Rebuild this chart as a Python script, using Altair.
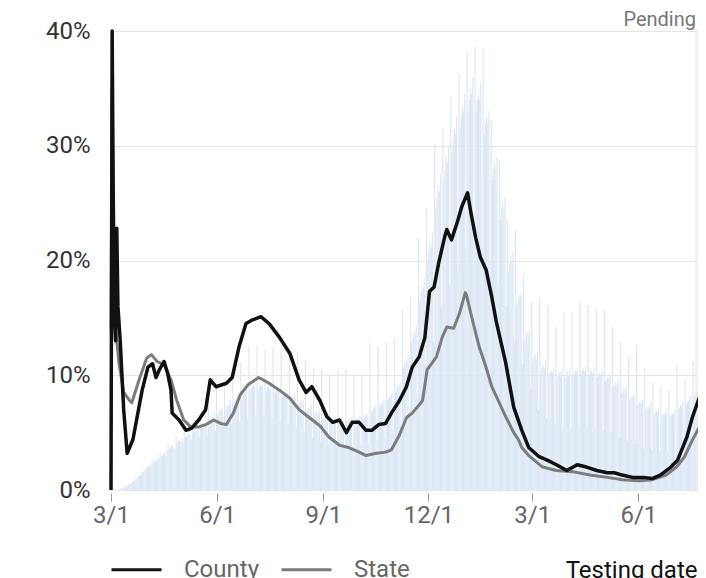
import altair as alt
import pandas as pd

# Daily positivity bars (%), one row per week starting Sunday 2020-03-01
bar_weeks = [
    [0, 0, 0, 0, 0, 0, 0],
    [0.1, 0.1, 0.2, 0.2, 0.2, 0.3, 0.3],
    [0.4, 0.5, 0.5, 0.6, 0.7, 0.8, 0.8],
    [1.0, 1.1, 1.2, 1.3, 1.2, 1.5, 1.6],
    [1.7, 1.8, 1.8, 2.0, 2.1, 2.2, 2.0],
    [2.4, 2.3, 2.5, 2.6, 2.5, 2.8, 2.7],
    [3.2, 2.9, 3.0, 3.1, 3.3, 3.0, 3.4],
    [4.0, 3.6, 3.7, 3.8, 3.9, 3.7, 3.5],
    [4.8, 4.2, 4.3, 4.4, 4.2, 4.5, 4.0],
    [5.5, 4.6, 4.7, 4.8, 5.0, 4.8, 4.4],
    [6.0, 5.0, 5.1, 5.3, 5.2, 5.4, 4.6],
    [6.6, 5.4, 5.6, 5.5, 5.8, 5.7, 4.8],
    [8.0, 6.0, 6.2, 6.5, 6.3, 6.8, 5.2],
    [9.0, 6.6, 6.8, 7.0, 7.2, 7.0, 5.5],
    [9.2, 7.0, 7.2, 7.5, 7.3, 7.8, 5.8],
    [10.2, 7.6, 7.8, 8.0, 8.2, 8.0, 6.0],
    [11.2, 8.0, 8.3, 8.5, 8.4, 8.8, 6.2],
    [12.5, 8.6, 8.8, 9.0, 9.2, 9.0, 6.5],
    [12.6, 8.8, 9.0, 9.3, 9.1, 9.4, 6.6],
    [12.2, 8.6, 8.9, 9.0, 8.8, 9.2, 6.3],
    [12.5, 8.4, 8.6, 8.8, 8.9, 8.7, 6.0],
    [12.6, 8.2, 8.4, 8.5, 8.7, 8.3, 5.8],
    [12.4, 7.8, 8.0, 8.2, 8.1, 8.3, 5.5],
    [12.0, 7.4, 7.6, 7.8, 7.5, 7.9, 5.0],
    [11.2, 6.9, 7.1, 7.2, 7.0, 7.4, 4.6],
    [10.6, 6.5, 6.7, 6.8, 6.6, 7.0, 4.3],
    [10.5, 6.2, 6.4, 6.5, 6.3, 6.6, 4.0],
    [10.0, 6.0, 6.1, 6.3, 6.2, 6.4, 3.8],
    [10.4, 5.8, 6.0, 6.1, 6.2, 6.0, 3.7],
    [10.5, 5.9, 6.0, 6.2, 6.1, 6.3, 3.8],
    [10.2, 6.0, 6.2, 6.3, 6.2, 6.5, 3.9],
    [10.0, 6.2, 6.4, 6.5, 6.6, 6.4, 4.0],
    [12.8, 6.8, 7.0, 7.2, 7.1, 7.4, 4.3],
    [12.6, 7.2, 7.4, 7.6, 7.5, 7.8, 4.6],
    [12.9, 7.8, 8.0, 8.2, 8.4, 8.3, 5.0],
    [13.2, 8.6, 8.9, 9.2, 9.0, 9.4, 5.6],
    [15.7, 10.6, 11.0, 11.4, 11.2, 11.8, 6.8],
    [16.8, 12.8, 13.3, 13.8, 13.6, 14.3, 8.0],
    [22.0, 16.5, 17.2, 17.8, 17.6, 18.5, 11.0],
    [24.4, 20.0, 20.8, 21.5, 21.2, 22.4, 13.0],
    [30.2, 24.5, 25.5, 26.5, 26.0, 27.5, 16.0],
    [31.6, 27.0, 28.0, 29.0, 28.5, 30.0, 18.0],
    [34.3, 29.5, 30.5, 31.5, 31.0, 32.5, 19.5],
    [36.3, 31.5, 32.5, 33.5, 33.0, 34.5, 21.0],
    [38.2, 33.0, 34.0, 35.0, 34.5, 36.0, 21.5],
    [38.6, 33.0, 34.0, 34.5, 34.0, 35.5, 21.0],
    [38.5, 31.0, 32.0, 32.5, 32.0, 33.0, 20.0],
    [32.2, 27.0, 28.0, 28.5, 28.0, 29.0, 18.0],
    [28.7, 23.5, 24.5, 25.0, 24.5, 25.5, 16.0],
    [23.5, 19.0, 19.8, 20.4, 20.0, 20.8, 13.0],
    [22.7, 16.0, 16.5, 17.0, 16.8, 17.2, 11.0],
    [18.7, 13.0, 13.5, 13.8, 13.5, 14.0, 8.8],
    [16.4, 11.2, 11.5, 11.8, 11.4, 12.0, 7.0],
    [16.7, 10.4, 10.7, 10.9, 10.6, 11.2, 6.2],
    [16.1, 10.0, 10.2, 10.4, 10.2, 10.7, 5.8],
    [14.2, 9.7, 10.0, 10.2, 9.9, 10.4, 5.5],
    [15.5, 9.8, 10.1, 10.3, 10.0, 10.5, 5.4],
    [15.4, 10.0, 10.2, 10.4, 10.3, 10.6, 5.6],
    [16.4, 10.1, 10.4, 10.6, 10.3, 10.8, 5.5],
    [16.1, 10.0, 10.3, 10.5, 10.2, 10.7, 5.4],
    [15.9, 9.8, 10.1, 10.2, 10.0, 10.4, 5.2],
    [15.7, 9.5, 9.7, 9.9, 9.7, 10.1, 5.0],
    [14.2, 9.0, 9.2, 9.4, 9.2, 9.6, 4.6],
    [12.9, 8.4, 8.6, 8.8, 8.7, 9.0, 4.3],
    [11.6, 7.8, 8.0, 8.2, 8.1, 8.4, 4.0],
    [12.6, 7.4, 7.6, 7.7, 7.5, 7.9, 3.6],
    [10.6, 7.0, 7.2, 7.3, 7.2, 7.5, 3.5],
    [9.4, 6.6, 6.7, 6.9, 6.8, 7.1, 3.4],
    [9.0, 6.4, 6.6, 6.7, 6.5, 6.9, 3.3],
    [8.7, 6.4, 6.5, 6.7, 6.6, 7.0, 3.4],
    [10.9, 7.0, 7.2, 7.4, 7.3, 7.7, 3.8],
    [9.6, 7.4, 7.7, 7.9, 7.8, 8.2, 4.2],
    [11.2, 8.2, 8.5, 8.7, 8.6, 9.0, 4.6],
    [10.0, 8.5],
]

county_dates = [
    "2020-03-01", "2020-03-02", "2020-03-03", "2020-03-04", "2020-03-05", "2020-03-06",
    "2020-03-07", "2020-03-09", "2020-03-12", "2020-03-15", "2020-03-20", "2020-03-28",
    "2020-04-02", "2020-04-06", "2020-04-09", "2020-04-12", "2020-04-16", "2020-04-19",
    "2020-04-22", "2020-04-23", "2020-04-29", "2020-05-05", "2020-05-10", "2020-05-16",
    "2020-05-22", "2020-05-26", "2020-05-31", "2020-06-09", "2020-06-14", "2020-06-20",
    "2020-06-26", "2020-07-01", "2020-07-09", "2020-07-16", "2020-07-25", "2020-08-03",
    "2020-08-11", "2020-08-17", "2020-08-22", "2020-08-29", "2020-09-04", "2020-09-09",
    "2020-09-15", "2020-09-21", "2020-09-26", "2020-10-02", "2020-10-08", "2020-10-13",
    "2020-10-19", "2020-10-25", "2020-10-30", "2020-11-06", "2020-11-12", "2020-11-17",
    "2020-11-23", "2020-11-28", "2020-12-02", "2020-12-06", "2020-12-10", "2020-12-15",
    "2020-12-17", "2020-12-21", "2020-12-26", "2020-12-30", "2021-01-04", "2021-01-07",
    "2021-01-11", "2021-01-15", "2021-01-20", "2021-01-25", "2021-01-29", "2021-02-06",
    "2021-02-13", "2021-02-20", "2021-02-26", "2021-03-07", "2021-03-14", "2021-03-22",
    "2021-03-31", "2021-04-09", "2021-04-17", "2021-04-26", "2021-05-05", "2021-05-11",
    "2021-05-18", "2021-05-27", "2021-06-05", "2021-06-13", "2021-06-20", "2021-06-28",
    "2021-07-05", "2021-07-13", "2021-07-18", "2021-07-24", "2021-07-27",
]
county_values = [
    0, 40, 25, 15, 13, 22.8,
    16, 13, 7, 3.2, 4.4, 8.7,
    10.7, 11.0, 9.8, 10.5, 11.2, 10.2,
    8.7, 6.7, 6.1, 5.2, 5.4, 6.1,
    7.0, 9.6, 9.0, 9.3, 9.8, 12.5,
    14.5, 14.8, 15.1, 14.5, 13.3, 11.9,
    9.6, 8.5, 9.0, 7.8, 6.4, 5.9,
    6.1, 5.0, 5.9, 5.9, 5.2, 5.2,
    5.7, 5.8, 6.7, 7.8, 9.0, 10.7,
    11.6, 13.3, 17.3, 17.7, 19.8, 22.0,
    22.7, 21.8, 23.3, 24.7, 25.9, 24.1,
    22.0, 20.3, 19.2, 16.8, 14.6, 11.1,
    7.2, 5.2, 3.7, 2.9, 2.6, 2.2,
    1.7, 2.2, 2.0, 1.7, 1.5, 1.5,
    1.3, 1.1, 1.1, 1.0, 1.3, 1.9,
    2.6, 4.6, 6.4, 8.1, 8.9,
]

state_dates = [
    "2020-03-01", "2020-03-02", "2020-03-03", "2020-03-05", "2020-03-08", "2020-03-12",
    "2020-03-17", "2020-03-19", "2020-03-26", "2020-04-01", "2020-04-05", "2020-04-10",
    "2020-04-16", "2020-04-22", "2020-04-27", "2020-05-03", "2020-05-09", "2020-05-16",
    "2020-05-22", "2020-05-29", "2020-06-04", "2020-06-09", "2020-06-15", "2020-06-21",
    "2020-06-28", "2020-07-07", "2020-07-16", "2020-07-25", "2020-08-03", "2020-08-11",
    "2020-08-20", "2020-08-29", "2020-09-06", "2020-09-15", "2020-09-23", "2020-10-02",
    "2020-10-08", "2020-10-17", "2020-10-25", "2020-10-30", "2020-11-06", "2020-11-12",
    "2020-11-17", "2020-11-23", "2020-11-26", "2020-11-30", "2020-12-08", "2020-12-13",
    "2020-12-17", "2020-12-23", "2020-12-28", "2021-01-02", "2021-01-03", "2021-01-08",
    "2021-01-14", "2021-01-20", "2021-01-25", "2021-01-31", "2021-02-06", "2021-02-13",
    "2021-02-17", "2021-02-20", "2021-02-26", "2021-03-10", "2021-03-22", "2021-04-05",
    "2021-04-20", "2021-05-05", "2021-05-18", "2021-06-02", "2021-06-13", "2021-06-25",
    "2021-07-04", "2021-07-11", "2021-07-18", "2021-07-24", "2021-07-27",
]
state_values = [
    14, 35, 20, 14, 11, 8.5,
    7.8, 7.6, 9.8, 11.5, 11.8, 11.2,
    10.9, 9.6, 7.8, 6.1, 5.5, 5.5,
    5.7, 6.1, 5.8, 5.7, 6.7, 8.3,
    9.2, 9.8, 9.3, 8.7, 8.0, 7.0,
    6.3, 5.6, 4.6, 3.9, 3.7, 3.3,
    3.0, 3.2, 3.3, 3.5, 4.8, 6.3,
    6.7, 7.4, 7.8, 10.5, 11.6, 13.3,
    14.2, 14.1, 15.4, 17.2, 17.0, 14.9,
    12.5, 10.7, 9.0, 7.7, 6.4, 5.0,
    4.4, 3.7, 3.0, 2.0, 1.7, 1.6,
    1.3, 1.1, 0.9, 0.8, 0.9, 1.3,
    2.0, 2.9, 4.4, 5.5, 5.8,
]

series_names = ["County", "State"]
series_colors = ["#111111", "#7c7c7c"]
pending_start = "2021-07-20T00:00:00"
pending_end = "2021-07-27T00:00:00"
pending_label = "Pending"
x_title = "Testing date"
y_ticks = [0, 10, 20, 30, 40]

# ---- build tables ----
bar_values = [v for week in bar_weeks for v in week]
bar_days = pd.date_range("2020-03-01", periods=len(bar_values), freq="D")
bars_df = pd.DataFrame({
    "date": bar_days.strftime("%Y-%m-%dT00:00:00"),
    "end": (bar_days + pd.Timedelta(days=1)).strftime("%Y-%m-%dT00:00:00"),
    "value": bar_values,
})
lines_df = pd.concat([
    pd.DataFrame({"date": [d + "T00:00:00" for d in state_dates], "value": state_values, "series": "State"}),
    pd.DataFrame({"date": [d + "T00:00:00" for d in county_dates], "value": county_values, "series": "County"}),
])
pend_df = pd.DataFrame({"start": [pending_start], "end": [pending_end], "label": [pending_label]})

FONT = "Roboto"
FS = 24
x_scale = alt.Scale(domain=[alt.DateTime(year=2020, month=3, date=1),
                            alt.DateTime(year=2021, month=7, date=27)])
y_scale = alt.Scale(domain=[0, 40], nice=False)
x_axis = alt.Axis(
    values=[alt.DateTime(year=2020, month=3, date=1), alt.DateTime(year=2020, month=6, date=1),
            alt.DateTime(year=2020, month=9, date=1), alt.DateTime(year=2020, month=12, date=1),
            alt.DateTime(year=2021, month=3, date=1), alt.DateTime(year=2021, month=6, date=1)],
    format="%-m/%-d", grid=False, domain=False, ticks=True, tickColor="#999999",
    tickSize=8, offset=3, labelFontSize=FS, labelColor="#666666", labelPadding=2,
    labelFlush=False, labelOverlap=False,
    labelFont=FONT, title=x_title, titleFont=FONT, titleFontSize=FS, titleFontWeight="normal",
    titleColor="#111111", titleAnchor="end", titleAlign="right", titleBaseline="alphabetic",
    titleX=586, titleY=84,
)
y_axis = alt.Axis(
    values=y_ticks, labelExpr="datum.value + '%'", grid=True, gridColor="#e6e6e6",
    domain=False, ticks=False, labelPadding=21, labelFontSize=FS, labelColor="#333333",
    labelFont=FONT, title=None,
)

bars = alt.Chart(bars_df).mark_rect(color="#dce7f4").encode(
    x=alt.X("date:T", scale=x_scale, axis=x_axis),
    x2="end:T",
    y=alt.Y("value:Q", scale=y_scale, axis=y_axis),
    y2=alt.datum(0),
)

band = alt.Chart(pend_df).mark_rect(color="#ececec", opacity=0.7).encode(
    x=alt.X("start:T", scale=x_scale, axis=x_axis),
    x2="end:T",
    y=alt.value(0),
    y2=alt.value(459),
)

pend_text = alt.Chart(pend_df).mark_text(
    align="right", baseline="alphabetic", font=FONT, fontSize=20, color="#777777", dx=-7
).encode(
    x=alt.X("end:T", scale=x_scale, axis=x_axis),
    y=alt.value(-5),
    text="label:N",
)

color_enc = alt.Color(
    "series:N",
    scale=alt.Scale(domain=series_names, range=series_colors),
    legend=alt.Legend(
        orient="none", legendX=-1, legendY=512, direction="horizontal", title=None,
        symbolType="stroke", symbolSize=2500, symbolStrokeWidth=3, labelFontSize=FS,
        labelFont=FONT, labelColor="#666666", labelOffset=21, columnPadding=16, padding=0,
    ),
)

state_line = alt.Chart(lines_df).transform_filter(alt.datum.series == "State").mark_line(
    strokeWidth=3, strokeJoin="round"
).encode(
    x=alt.X("date:T", scale=x_scale, axis=x_axis),
    y=alt.Y("value:Q", scale=y_scale, axis=y_axis),
    color=color_enc,
)
county_line = alt.Chart(lines_df).transform_filter(alt.datum.series == "County").mark_line(
    strokeWidth=3.5, strokeJoin="round"
).encode(
    x=alt.X("date:T", scale=x_scale, axis=x_axis),
    y=alt.Y("value:Q", scale=y_scale, axis=y_axis),
    color=color_enc,
)

chart = alt.layer(bars, band, state_line, county_line, pend_text).properties(
    width=592, height=459,
    padding={"left": 103, "top": 23, "right": -5, "bottom": 88},
    autosize=alt.AutoSizeParams(type="none"),
).configure_view(stroke=None).configure(font=FONT)

chart.save("out.html", embed_options={"renderer": "svg", "actions": False})
